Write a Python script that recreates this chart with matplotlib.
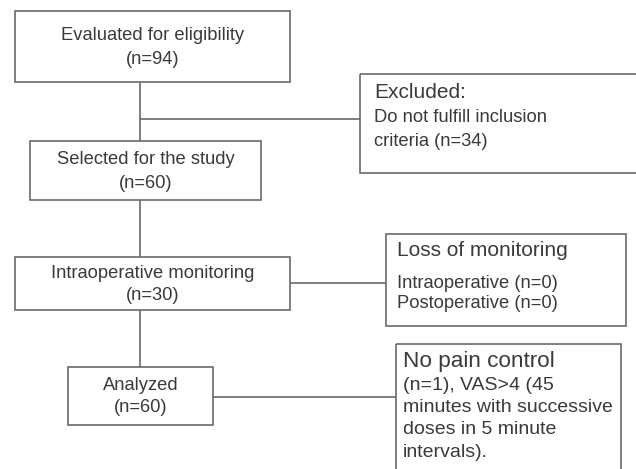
import matplotlib
matplotlib.use("Agg")
import matplotlib.pyplot as plt
from matplotlib.patches import Rectangle

plt.rcParams['font.family'] = ['Liberation Sans', 'DejaVu Sans']

# texts of the main boxes (left column)
main_titles = ["Evaluated for eligibility", "Selected for the study",
               "Intraoperative monitoring", "Analyzed"]
main_counts = [94, 60, 30, 60]

# side boxes
excluded_head = "Excluded:"
excluded_lines = ["Do not fulfill inclusion", "criteria (n=34)"]
loss_head = "Loss of monitoring"
loss_lines = ["Intraoperative (n=0)", "Postoperative (n=0)"]
nopain_head = "No pain control"
nopain_lines = ["(n=1), VAS>4 (45", "minutes with successive",
                "doses in 5 minute", "intervals)."]

LC = "#6a6a6a"   # line colour
TC = "#3a3a3a"   # text colour
LW = 1.2

fig = plt.figure(figsize=(6.36, 4.69), dpi=100)
ax = fig.add_axes([0, 0, 1, 1])
ax.set_xlim(0, 636)
ax.set_ylim(469, 0)
ax.axis("off")


def box(x0, y0, x1, y1):
    ax.add_patch(Rectangle((x0, y0), x1 - x0, y1 - y0, fill=False,
                           edgecolor=LC, linewidth=LW, clip_on=True))


def line(xs, ys):
    ax.plot(xs, ys, color=LC, linewidth=LW, solid_capstyle="butt")


# main boxes: (x0, y0, x1, y1, y of title, y of count)
main_boxes = [(15, 11, 290, 82, 35, 60),
              (30, 141, 261, 200, 160, 183),
              (15, 257, 290, 310, 273, 296),
              (68, 367, 213, 425, 385, 408)]
for (x0, y0, x1, y1, ty, cy), t, n in zip(main_boxes, main_titles, main_counts):
    box(x0, y0, x1, y1)
    xc = (x0 + x1) / 2
    ax.text(xc, ty, t, ha="center", va="center", fontsize=13.2, color=TC)
    ax.text(xc, cy, "(n=%d)" % n, ha="center", va="center", fontsize=13.2, color=TC)

# vertical connectors
line([140, 140], [82, 141])
line([140, 140], [200, 257])
line([140, 140], [310, 367])

# horizontal connectors to side boxes
line([140, 360], [119, 119])
line([290, 386], [283, 283])
line([213, 396], [397, 397])

# Excluded box (runs off the right edge)
box(360, 74, 650, 173)
ax.text(374, 93, excluded_head, ha="left", va="center", fontsize=15, color=TC)
for i, s in enumerate(excluded_lines):
    ax.text(374, 118 + 24 * i, s, ha="left", va="center", fontsize=13.2, color=TC)

# Loss of monitoring box
box(386, 234, 626, 326)
ax.text(397, 251, loss_head, ha="left", va="center", fontsize=15, color=TC)
for i, s in enumerate(loss_lines):
    ax.text(397, 283 + 21 * i, s, ha="left", va="center", fontsize=13.2, color=TC)

# No pain control box (runs off the bottom)
box(396, 344, 621, 490)
ax.text(403, 362, nopain_head, ha="left", va="center", fontsize=16.2, color=TC)
for i, s in enumerate(nopain_lines):
    ax.text(403, 385 + 22.5 * i, s, ha="left", va="center", fontsize=14, color=TC)

fig.savefig("out.png", dpi=100, facecolor="white")
